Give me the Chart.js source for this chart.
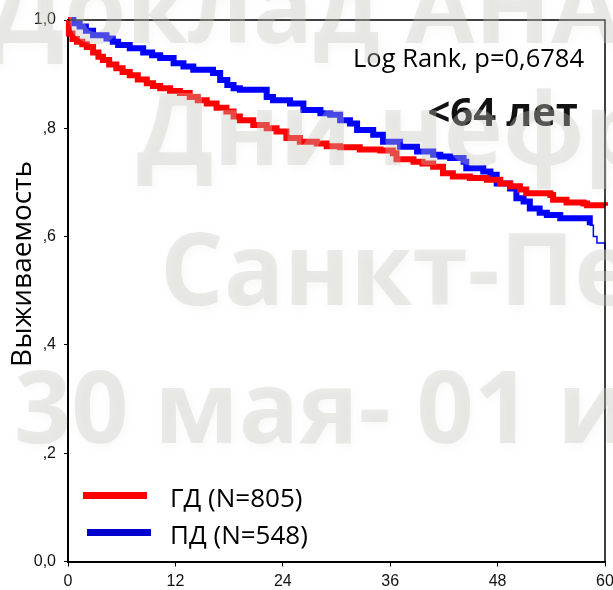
<!DOCTYPE html>
<html>
<head>
<meta charset="utf-8">
<script src="https://cdn.jsdelivr.net/npm/chart.js@4.4.0/dist/chart.umd.min.js"></script>
<style>
  html, body { margin: 0; padding: 0; background: #fff; }
  #wrap { width: 613px; height: 590px; position: relative; }
</style>
</head>
<body>
<div id="wrap"><canvas id="km"></canvas></div>
<script>
// tick values and labels
const monthTicks = [0, 12, 24, 36, 48, 60];
const survTicks = [0, 0.2, 0.4, 0.6, 0.8, 1.0];
const survTickLabels = ['0,0', ',2', ',4', ',6', ',8', '1,0'];

const seriesLabels = ['ГД (N=805)', 'ПД (N=548)'];

// ГД - step points (month, survival)
const hdMonths = [0, 0.1, 0.5, 1.0, 1.6, 2.1, 2.8, 3.4, 3.9, 4.6,
  5.4, 6.1, 6.9, 7.8, 8.8, 9.5, 10.3, 11.4, 12.5, 13.6,
  14.5, 15.5, 16.6, 17.7, 18.5, 19.2, 20.7, 22.2, 23.3, 24.4,
  25.9, 27.8, 28.9, 30.4, 32.6, 34.9, 36.3, 36.7, 38.6, 39.6,
  40.8, 41.9, 43.0, 44.9, 46.8, 48.3, 49.4, 50.5, 51.2, 53.9,
  54.2, 55.7, 57.6, 58.0, 60.0, 60.4, 60.9, 61.5];
const hdSurv = [1.0, 0.975, 0.965, 0.960, 0.955, 0.950, 0.940, 0.932, 0.926, 0.918,
  0.911, 0.904, 0.898, 0.890, 0.883, 0.878, 0.874, 0.869, 0.865, 0.858,
  0.852, 0.846, 0.838, 0.831, 0.822, 0.815, 0.806, 0.800, 0.794, 0.782,
  0.775, 0.772, 0.767, 0.765, 0.761, 0.759, 0.754, 0.743, 0.738, 0.735,
  0.729, 0.717, 0.711, 0.708, 0.705, 0.698, 0.693, 0.687, 0.680, 0.677,
  0.668, 0.663, 0.661, 0.658, 0.657, 0.652, 0.644, 0.644];

// ПД - step points (month, survival)
const pdMonths = [0, 0.6, 1.3, 2.0, 2.8, 4.3, 5.0, 5.6, 6.9, 8.4,
  9.4, 10.3, 11.8, 12.9, 14.0, 16.2, 17.0, 17.8, 18.5, 19.2,
  22.2, 22.9, 24.8, 26.3, 28.2, 29.3, 30.4, 31.5, 32.3, 34.1,
  35.2, 37.1, 39.0, 40.8, 41.6, 42.7, 44.2, 44.5, 46.4, 47.2,
  47.9, 49.4, 50.1, 50.9, 51.6, 52.7, 53.5, 55.0, 58.3, 58.7,
  59.1, 60.0, 60.4, 61.5];
const pdSurv = [1.0, 0.994, 0.988, 0.980, 0.972, 0.966, 0.960, 0.954, 0.948, 0.940,
  0.935, 0.930, 0.920, 0.914, 0.908, 0.902, 0.889, 0.880, 0.874, 0.871,
  0.858, 0.852, 0.846, 0.834, 0.828, 0.825, 0.815, 0.809, 0.797, 0.788,
  0.775, 0.766, 0.757, 0.751, 0.748, 0.745, 0.738, 0.726, 0.720, 0.714,
  0.698, 0.689, 0.671, 0.665, 0.652, 0.644, 0.640, 0.634, 0.621, 0.600,
  0.588, 0.575, 0.566, 0.566];

const watermarkLines = ['Доклад АНА', 'Дни нефр', 'Санкт-Пе', '30 мая- 01 и'];

const toPoints = (xs, ys) => xs.map((x, i) => ({ x, y: ys[i] }));

const extras = {
  id: 'extras',
  afterDraw(chart) {
    const { ctx, chartArea: a } = chart;
    ctx.save();

    // frame (top and right)
    ctx.strokeStyle = '#000';
    ctx.lineWidth = 1.5;
    ctx.beginPath();
    ctx.moveTo(a.left, a.top);
    ctx.lineTo(a.right, a.top);
    ctx.lineTo(a.right, a.bottom);
    ctx.stroke();

    // y title
    ctx.save();
    ctx.translate(23, 264);
    ctx.rotate(-Math.PI / 2);
    ctx.fillStyle = '#000';
    ctx.font = '28px "Open Sans"';
    ctx.textAlign = 'center';
    ctx.textBaseline = 'middle';
    ctx.fillText('Выживаемость', 0, 0);
    ctx.restore();

    // legend
    ctx.fillStyle = '#ff0000';
    ctx.fillRect(83, 492, 64, 7);
    ctx.fillStyle = '#0000cc';
    ctx.fillRect(87, 529, 64, 7);
    ctx.fillStyle = '#000';
    ctx.font = '26px "Open Sans"';
    ctx.textAlign = 'left';
    ctx.textBaseline = 'middle';
    ctx.fillText(seriesLabels[0], 170, 500);
    ctx.fillText(seriesLabels[1], 170, 537);

    // annotations
    ctx.textAlign = 'right';
    ctx.textBaseline = 'alphabetic';
    ctx.font = '25.5px "Open Sans"';
    ctx.fillText('Log Rank, p=0,6784', 584, 67);
    ctx.fillStyle = '#111';
    ctx.font = 'bold 40px "Open Sans"';
    ctx.fillText('<64 лет', 578, 126);

    // watermark on top
    ctx.font = 'bold 100px "Open Sans"';
    ctx.textAlign = 'left';
    ctx.fillStyle = 'rgba(196,196,190,0.34)';
    ctx.shadowColor = 'rgba(170,170,165,0.25)';
    ctx.shadowBlur = 8;
    ctx.shadowOffsetX = 2;
    ctx.shadowOffsetY = 3;
    ctx.fillText(watermarkLines[0], -12, 43);
    ctx.fillText(watermarkLines[1], 137, 165);
    ctx.fillText(watermarkLines[2], 160, 305);
    ctx.fillText(watermarkLines[3], 14, 443);
    ctx.restore();
  }
};

new Chart(document.getElementById('km'), {
  type: 'line',
  data: {
    datasets: [
      {
        label: seriesLabels[0],
        data: toPoints(hdMonths, hdSurv),
        borderColor: '#ff0000',
        borderWidth: 6,
        stepped: 'before',
        pointRadius: 0,
        clip: false,
        segment: { borderWidth: (c) => (c.p0.parsed.x >= 60 ? 1.5 : 6) }
      },
      {
        label: seriesLabels[1],
        data: toPoints(pdMonths, pdSurv),
        borderColor: '#0000ff',
        borderWidth: 6,
        stepped: 'before',
        pointRadius: 0,
        clip: false,
        segment: { borderWidth: (c) => (c.p0.parsed.x >= 58.3 ? 1.5 : 6) }
      }
    ]
  },
  options: {
    responsive: true,
    maintainAspectRatio: false,
    animation: false,
    layout: { padding: { top: 20, right: 8, left: 0, bottom: 0 } },
    plugins: { legend: { display: false }, tooltip: { enabled: false } },
    scales: {
      x: {
        type: 'linear',
        min: 0,
        max: 60,
        afterBuildTicks: (s) => { s.ticks = monthTicks.map((v) => ({ value: v })); },
        afterFit: (s) => { s.height = 28.5; s.paddingRight = 0; s.paddingLeft = 0; },
        ticks: { color: '#111', font: { family: '"Liberation Sans"', size: 16 }, padding: 5, maxRotation: 0 },
        grid: { drawOnChartArea: false, color: '#000', tickLength: 5 },
        border: { color: '#000', width: 2 }
      },
      y: {
        min: 0,
        max: 1,
        afterBuildTicks: (s) => { s.ticks = survTicks.map((v) => ({ value: v })); },
        afterFit: (s) => { s.width = 68; },
        ticks: {
          color: '#111',
          font: { family: '"Liberation Sans"', size: 16 },
          padding: 8,
          callback: (v) => survTickLabels[survTicks.indexOf(v)]
        },
        grid: { drawOnChartArea: false, color: '#000', tickLength: 4 },
        border: { color: '#000', width: 2 }
      }
    }
  },
  plugins: [extras]
});
</script>
</body>
</html>
